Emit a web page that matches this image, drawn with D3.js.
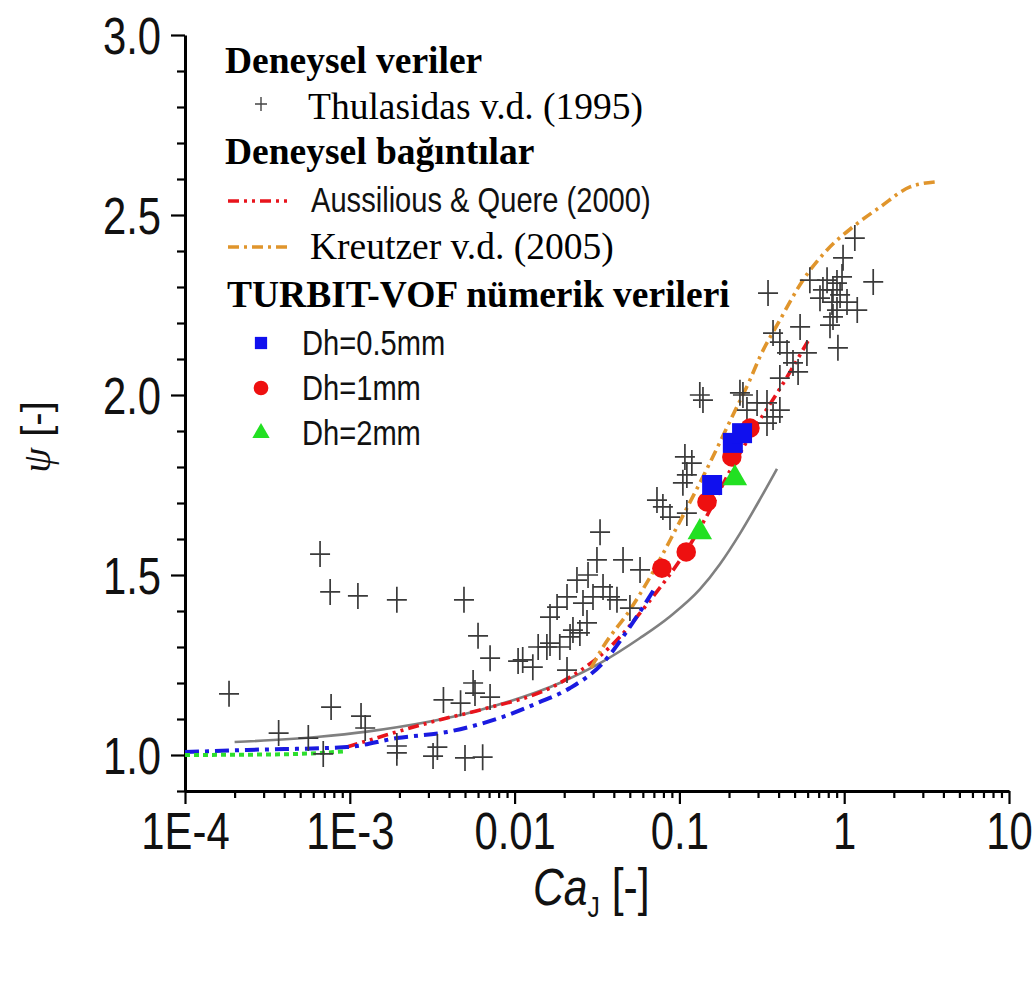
<!DOCTYPE html>
<html>
<head>
<meta charset="utf-8">
<script src="https://cdn.jsdelivr.net/npm/d3@7"></script>
<style>
  body { margin: 0; background: #fff; }
  svg { display: block; }
</style>
</head>
<body>
<svg id="chart" width="1036" height="981"></svg>
<script>
// ---- Thulasidas v.d. (1995): measured bubble velocity ratio vs capillary number
const thulCa = [
  1.85e-4, 6.6e-4, 7.6e-4, 1.12e-3, 1.93e-3, 4.93e-3, 6.0e-3, 7.1e-3, 0.0105, 0.0129, 0.0139,
  7.7e-4, 1.17e-3, 1.24e-3, 3.7e-4, 5.6e-4, 6.9e-4, 1.93e-3, 1.93e-3, 3.2e-3, 3.4e-3, 5.0e-3, 6.4e-3,
  3.7e-3, 4.7e-3, 5.6e-3, 5.75e-3, 7.1e-3,
  0.033, 0.0316, 0.0455, 0.0577, 0.0279, 0.0239, 0.0344, 0.0379, 0.0418, 0.0208, 0.0181, 0.026,
  0.0299, 0.0501, 0.0164, 0.0275, 0.0226, 0.0249, 0.0217, 0.0157, 0.0164, 0.0188, 0.0112, 0.0208,
  0.133, 0.139, 0.243, 0.257, 0.108, 0.119, 0.111, 0.105, 0.0731, 0.0794, 0.0877, 0.111,
  1.16, 0.984, 1.50, 0.345, 0.619, 0.787, 0.904, 0.855, 0.944, 0.713, 0.843, 1.04, 1.20, 0.904,
  0.855, 0.82, 0.916, 0.54, 0.37, 0.407, 0.45, 0.594, 0.489, 0.525, 0.407, 0.233, 0.296, 0.34,
  0.407, 0.37, 0.34, 0.743, 0.97
];
const thulPsi = [
  1.17, 1.558, 1.453, 1.442, 1.431, 1.431, 1.331, 1.269, 1.261, 1.244, 1.30,
  1.133, 1.108, 1.075, 1.061, 1.047, 1.003, 1.025, 1.006, 0.997, 1.022, 0.992, 0.994,
  1.153, 1.144, 1.20, 1.172, 1.161,
  1.619, 1.542, 1.542, 1.514, 1.50, 1.486, 1.467, 1.439, 1.431, 1.439, 1.411, 1.422,
  1.439, 1.408, 1.383, 1.367, 1.347, 1.339, 1.328, 1.30, 1.311, 1.30, 1.264, 1.236,
  2.0, 1.986, 2.0, 1.958, 1.828, 1.811, 1.778, 1.756, 1.708, 1.689, 1.661, 1.672,
  2.436, 2.381, 2.314, 2.283, 2.319, 2.319, 2.311, 2.292, 2.278, 2.269, 2.258, 2.258, 2.236, 2.236,
  2.217, 2.194, 2.131, 2.189, 2.172, 2.147, 2.117, 2.117, 2.089, 2.064, 2.047, 2.006, 1.978, 1.978,
  1.958, 1.939, 1.922, 2.292, 2.328
];

// ---- Correlations
const aussCa  = [9.6e-4, 1.68e-3, 3.68e-3, 6.17e-3, 0.0188, 0.0379, 0.0692, 0.111, 0.147, 0.203, 0.28, 0.45, 0.603];
const aussPsi = [1.022, 1.056, 1.100, 1.125, 1.20, 1.30, 1.44, 1.57, 1.665, 1.79, 1.90, 2.05, 2.15];

const kreuCa  = [0.0291, 0.0344, 0.0501, 0.0664, 0.0966, 0.153, 0.211, 0.268, 0.308, 0.407, 0.562, 0.787, 1.13, 1.65, 2.51, 3.56];
const kreuPsi = [1.242, 1.30, 1.403, 1.494, 1.633, 1.811, 1.944, 2.042, 2.106, 2.208, 2.319, 2.403, 2.467, 2.522, 2.578, 2.592];

// ---- Fits through the TURBIT-VOF results and a reference curve
const greyCa   = [2.0e-4, 6.3e-4, 1.27e-3, 6.17e-3, 0.0188, 0.033, 0.0577, 0.0877, 0.133, 0.176, 0.233, 0.308, 0.391];
const greyPsi  = [1.036, 1.05, 1.065, 1.125, 1.20, 1.255, 1.325, 1.385, 1.46, 1.53, 1.615, 1.71, 1.795];
const blueFitCa  = [1e-4, 2.38e-4, 9.6e-4, 1.93e-3, 3.89e-3, 6.17e-3, 8.5e-3, 0.0137, 0.0217, 0.0344, 0.0501, 0.0711];
const blueFitPsi = [1.008, 1.014, 1.022, 1.047, 1.064, 1.086, 1.106, 1.144, 1.186, 1.256, 1.356, 1.464];
const greenFitCa  = [1e-4, 4e-4, 9.3e-4];
const greenFitPsi = [1.0, 1.002, 1.01];

// ---- TURBIT-VOF numerical results
const dh05Ca  = [0.158, 0.211, 0.240];
const dh05Psi = [1.75, 1.867, 1.894];
const dh1Ca   = [0.0783, 0.110, 0.147, 0.208, 0.268];
const dh1Psi  = [1.519, 1.564, 1.703, 1.828, 1.908];
const dh2Ca   = [0.133, 0.217];
const dh2Psi  = [1.619, 1.769];

// ---- Axes
const xMajor = [1e-4, 1e-3, 1e-2, 1e-1, 1, 10];
const xTickLabels = ["1E-4", "1E-3", "0.01", "0.1", "1", "10"];
const yMajor = [1.0, 1.5, 2.0, 2.5, 3.0];
const yTickLabels = ["1.0", "1.5", "2.0", "2.5", "3.0"];

const SANS = "'Liberation Sans', Arial, sans-serif";
const SERIF = "'Liberation Serif', 'Times New Roman', serif";
const NARROW = 0.82;

const svg = d3.select("#chart");
const x = d3.scaleLog().domain([1e-4, 10]).range([185, 1009]);
const y = d3.scaleLinear().domain([0.9, 3.0]).range([791, 35]);

// minor tick positions
const xMinor = [];
for (let e = -4; e < 1; e++) for (let m = 2; m <= 9; m++) xMinor.push(m * Math.pow(10, e));
const yMinor = d3.range(9, 31).map(v => v / 10).filter(v => !yMajor.some(t => Math.abs(t - v) < 1e-9));

// ---- axes
const gx = svg.append("g").attr("transform", `translate(0,${y(0.9)})`);
gx.append("g")
  .call(d3.axisBottom(x).tickValues(xMinor).tickSize(7).tickSizeOuter(0).tickFormat(""))
  .call(g => g.select(".domain").remove());
gx.append("g")
  .call(d3.axisBottom(x).tickValues(xMajor).tickSize(13).tickSizeOuter(0).tickPadding(9)
        .tickFormat((d, i) => xTickLabels[i]));
gx.selectAll("line").attr("stroke", "#000").attr("stroke-width", 2.2);
gx.selectAll(".domain").attr("stroke", "#000").attr("stroke-width", 3);
gx.selectAll("text")
  .attr("font-family", SANS).attr("font-size", 51).attr("fill", "#111")
  .attr("transform", `scale(${NARROW},1)`);

const gy = svg.append("g").attr("transform", `translate(${x(1e-4)},0)`);
gy.append("g")
  .call(d3.axisLeft(y).tickValues(yMinor).tickSize(8).tickSizeOuter(0).tickFormat(""))
  .call(g => g.select(".domain").remove());
gy.append("g")
  .call(d3.axisLeft(y).tickValues(yMajor).tickSize(14).tickSizeOuter(0).tickPadding(10)
        .tickFormat((d, i) => yTickLabels[i]));
gy.selectAll("line").attr("stroke", "#000").attr("stroke-width", 2.2);
gy.selectAll(".domain").attr("stroke", "#000").attr("stroke-width", 3);
gy.selectAll("text")
  .attr("font-family", SANS).attr("font-size", 51).attr("fill", "#111")
  .attr("x", -24 / NARROW).attr("dy", "0.36em")
  .attr("transform", `scale(${NARROW},1)`);

// ---- axis titles
const xt = svg.append("text")
  .attr("transform", `translate(533,905) scale(${NARROW},1)`)
  .attr("font-family", SANS).attr("font-size", 52).attr("fill", "#111");
xt.append("tspan").attr("font-style", "italic").text("Ca");
xt.append("tspan").attr("font-size", 30).attr("dy", 12).text("J");
xt.append("tspan").attr("dy", -12).text(" [-]");

const yt = svg.append("text")
  .attr("transform", "translate(50,437) rotate(-90)")
  .attr("text-anchor", "middle")
  .attr("font-family", SANS).attr("font-size", 40).attr("fill", "#111");
yt.append("tspan").attr("font-family", SERIF).attr("font-style", "italic").text("ψ");
yt.append("tspan").text(" [-]");

// ---- curves
const line = d3.line().x(d => x(d[0])).y(d => y(d[1])).curve(d3.curveMonotoneX);
const zip = (a, b) => a.map((v, i) => [v, b[i]]);

const curves = [
  { ca: greyCa, psi: greyPsi, color: "#808080", width: 2.6, dash: null },
  { ca: aussCa, psi: aussPsi, color: "#e8141c", width: 3.6, dash: "11,5,3,5,3,5" },
  { ca: blueFitCa, psi: blueFitPsi, color: "#1a1ae0", width: 4, dash: "14,6,4,6" },
  { ca: greenFitCa, psi: greenFitPsi, color: "#2ede2e", width: 4, dash: "5,4" },
  { ca: kreuCa, psi: kreuPsi, color: "#e0952c", width: 3.6, dash: "11,5,3,5" }
];
curves.forEach(c => {
  svg.append("path")
    .attr("d", line(zip(c.ca, c.psi)))
    .attr("fill", "none")
    .attr("stroke", c.color)
    .attr("stroke-width", c.width)
    .attr("stroke-dasharray", c.dash);
});

// ---- measured points (crosses)
const crossPath = (hw, hh) => `M${-hw},0H${hw}M0,${-hh}V${hh}`;
svg.append("g").selectAll("path")
  .data(zip(thulCa, thulPsi))
  .join("path")
  .attr("transform", d => `translate(${x(d[0])},${y(d[1])})`)
  .attr("d", crossPath(10, 13))
  .attr("fill", "none").attr("stroke", "#3a3a3a").attr("stroke-width", 1.7);

// ---- numerical markers
const markers = [
  { ca: dh05Ca, psi: dh05Psi, type: d3.symbolSquare, size: 400, color: "#1010ee" },
  { ca: dh1Ca, psi: dh1Psi, type: d3.symbolCircle, size: 300, color: "#ee1010" },
  { ca: dh2Ca, psi: dh2Psi, type: d3.symbolTriangle, size: 260, color: "#22e022" }
];
// circles first so squares and triangles sit above them
[markers[1], markers[0], markers[2]].forEach(m => {
  svg.append("g").selectAll("path")
    .data(zip(m.ca, m.psi))
    .join("path")
    .attr("transform", d => `translate(${x(d[0])},${y(d[1])})`)
    .attr("d", d3.symbol().type(m.type).size(m.size))
    .attr("fill", m.color);
});

// ---- legend
const lg = svg.append("g");
const serifText = (tx, ty, str, bold) => lg.append("text")
  .attr("x", tx).attr("y", ty)
  .attr("font-family", SERIF).attr("font-size", 37.5)
  .attr("font-weight", bold ? "bold" : "normal").attr("fill", "#000").text(str);
const sansText = (tx, ty, str) => lg.append("text")
  .attr("transform", `translate(${tx},${ty}) scale(${NARROW},1)`)
  .attr("font-family", SANS).attr("font-size", 35.5).attr("fill", "#111").text(str);

serifText(225, 73, "Deneysel veriler", true);
lg.append("path").attr("transform", "translate(261,104)").attr("d", crossPath(6, 7))
  .attr("stroke", "#444").attr("stroke-width", 1.4);
serifText(308, 119, "Thulasidas v.d. (1995)", false);
serifText(225, 164, "Deneysel bağıntılar", true);
lg.append("line").attr("x1", 228).attr("x2", 290).attr("y1", 201).attr("y2", 201)
  .attr("stroke", curves[1].color).attr("stroke-width", 3.6).attr("stroke-dasharray", curves[1].dash);
sansText(311, 212, "Aussilious & Quere (2000)");
lg.append("line").attr("x1", 228).attr("x2", 290).attr("y1", 247).attr("y2", 247)
  .attr("stroke", curves[4].color).attr("stroke-width", 3.6).attr("stroke-dasharray", curves[4].dash);
serifText(310, 259, "Kreutzer v.d. (2005)", false);
serifText(227, 307, "TURBIT-VOF nümerik verileri", true);
const legendMarks = [
  { m: markers[0], ty: 343, label: "Dh=0.5mm", size: 150 },
  { m: markers[1], ty: 388, label: "Dh=1mm", size: 170 },
  { m: markers[2], ty: 433, label: "Dh=2mm", size: 130 }
];
legendMarks.forEach(o => {
  lg.append("path").attr("transform", `translate(261,${o.ty})`)
    .attr("d", d3.symbol().type(o.m.type).size(o.size)).attr("fill", o.m.color);
  sansText(302, o.ty + 12, o.label);
});
</script>
</body>
</html>
